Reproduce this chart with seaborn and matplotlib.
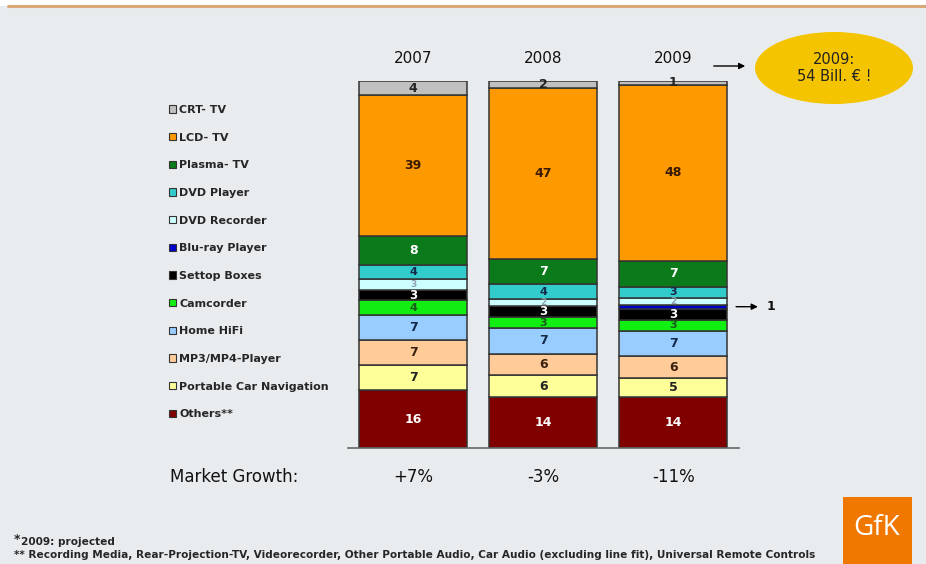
import numpy as np
import pandas as pd
import matplotlib
matplotlib.use("Agg")
import matplotlib.pyplot as plt
import seaborn as sns
from matplotlib.patches import Ellipse, Rectangle, Patch
from matplotlib.lines import Line2D

# ---------------- data ----------------
years = ["2007", "2008", "2009"]
categories = ["Others**", "Portable Car Navigation", "MP3/MP4-Player", "Home HiFi",
              "Camcorder", "Settop Boxes", "Blu-ray Player", "DVD Recorder",
              "DVD Player", "Plasma- TV", "LCD- TV", "CRT- TV"]
others = [16, 14, 14]
car_nav = [7, 6, 5]
mp3 = [7, 6, 6]
hifi = [7, 7, 7]
camcorder = [4, 3, 3]
settop = [3, 3, 3]
bluray = [0, 0, 1]
dvd_rec = [3, 2, 2]
dvd_player = [4, 4, 3]
plasma = [8, 7, 7]
lcd = [39, 47, 48]
crt = [4, 2, 1]
growth = ["+7%", "-3%", "-11%"]

series = [others, car_nav, mp3, hifi, camcorder, settop, bluray, dvd_rec,
          dvd_player, plasma, lcd, crt]
colors = ["#800000", "#ffff99", "#ffcc99", "#99ccff", "#11ee11", "#000000",
          "#0000cc", "#ccffff", "#33cccc", "#0a7a1a", "#ff9900", "#c0c0c0"]
label_colors = ["white", "#222222", "#3a2010", "#14284a", "#1a5a1a", "white",
                None, "#8fa0b0", "#14284a", "white", "#3a1a00", "#222222"]
label_sizes = [9, 9, 9, 9, 8, 8.5, 9, 6.5, 8, 9, 9, 9]

BG = "#e9ecee"
sns.set_theme(style="white")
plt.rcParams["font.family"] = ["DejaVu Sans"]

fig = plt.figure(figsize=(9.26, 5.64), dpi=100, facecolor=BG)
W, H = 926, 564
def fx(px): return px / W
def fy(py): return 1 - py / H

ax = fig.add_axes([fx(348), fy(448), 390.5 / W, 367 / H])
ax.set_facecolor(BG)

totals = np.sum(np.array(series), axis=0)
bottom = np.zeros(len(years))
for cat, vals, col, lc, ls in zip(categories, series, colors, label_colors, label_sizes):
    h = np.array(vals, dtype=float) / totals * 100
    sns.barplot(x=years, y=h, color=col, saturation=1, width=0.83, bottom=bottom.copy(),
                edgecolor="#333333", linewidth=1.1, errorbar=None, ax=ax)
    cont = ax.containers[-1]
    if lc is not None:
        labs = [str(v) if v > 0 else "" for v in vals]
        ax.bar_label(cont, labels=labs, label_type="center", color=lc,
                     fontsize=ls, fontweight="bold")
    bottom += h

ax.set_xlim(-0.5, 2.5)
ax.set_ylim(0, 100)
ax.set_yticks([])
ax.xaxis.tick_top()
ax.set_xticks(range(len(years)))
ax.set_xticklabels(years, fontsize=11, color="#111111")
ax.tick_params(axis="x", length=0, pad=11)
ax.set_xlabel("")
ax.set_ylabel("")
for s in ["top", "left", "right"]:
    ax.spines[s].set_visible(False)
ax.spines["bottom"].set_color("#666666")
ax.spines["bottom"].set_linewidth(1.2)

# Blu-ray callout in 2009
blu_idx = categories.index("Blu-ray Player")
blu_mid = (np.sum(np.array(series[:blu_idx]), axis=0)[2] + bluray[2] / 2) / totals[2] * 100
ax.annotate("", xy=(2.67, blu_mid), xytext=(2.46, blu_mid),
            arrowprops=dict(arrowstyle="-|>", color="black", lw=1.0, mutation_scale=9),
            annotation_clip=False)
ax.text(2.715, blu_mid, str(bluray[2]), fontsize=9, fontweight="bold",
        va="center", ha="left", color="#111111", clip_on=False)

# legend
handles = [Patch(facecolor=c, edgecolor="#333333", linewidth=0.8) for c in colors][::-1]
leg = fig.legend(handles, categories[::-1], loc="upper left",
                 bbox_to_anchor=(fx(169), fy(105)), bbox_transform=fig.transFigure,
                 frameon=False, borderpad=0, borderaxespad=0,
                 handlelength=0.65, handleheight=0.65, handletextpad=0.25,
                 labelspacing=1.59, prop={"weight": "bold", "size": 8})

# market growth row
fig.text(fx(170), fy(477), "Market Growth:", fontsize=12, va="center", ha="left", color="#111111")
for i, g in enumerate(growth):
    xp = ax.transData.transform((i, 0))[0]
    fig.text(xp / fig.bbox.width, fy(477), g, fontsize=12, va="center", ha="center", color="#111111")

# ellipse with total
fig.patches.append(Ellipse((fx(834), fy(68)), 158 / W, 72 / H, transform=fig.transFigure,
                           facecolor="#f5c400", edgecolor="none", zorder=1))
fig.text(fx(834), fy(68), "2009:\n54 Bill. € !", fontsize=10.5, ha="center", va="center",
         color="#222222", linespacing=1.2)
fig.add_artist(matplotlib.patches.FancyArrowPatch((fx(711), fy(66)), (fx(748), fy(66)),
               transform=fig.transFigure, arrowstyle="-|>", mutation_scale=9,
               color="black", lw=1.0))

# top rule
fig.patches.append(Rectangle((0, fy(6)), 1, 6 / H, transform=fig.transFigure,
                             facecolor="white", edgecolor="none"))
fig.add_artist(Line2D([fx(8), 1], [fy(6), fy(6)], transform=fig.transFigure,
                      color="#d9a878", lw=2.2))

# footnotes
fn_font = ["DejaVu Sans"]
fig.text(fx(14), fy(540), "*", fontsize=9, fontweight="bold", va="center", family=fn_font)
fig.text(fx(21), fy(542), "2009: projected", fontsize=7.6, fontweight="bold", va="center",
         family=fn_font)
fig.text(fx(14), fy(555), "** Recording Media, Rear-Projection-TV, Videorecorder, Other Portable Audio, "
         "Car Audio (excluding line fit), Universal Remote Controls",
         fontsize=7.6, fontweight="bold", va="center", family=fn_font)

# GfK logo
fig.patches.append(Rectangle((fx(843), fy(564)), 69 / W, 67 / H, transform=fig.transFigure,
                             facecolor="#f07800", edgecolor="none"))
fig.text(fx(877), fy(528), "GfK", fontsize=20, color="white", ha="center", va="center",
         family=["Open Sans", "DejaVu Sans"])

fig.savefig("out.png", dpi=100, facecolor=BG)
